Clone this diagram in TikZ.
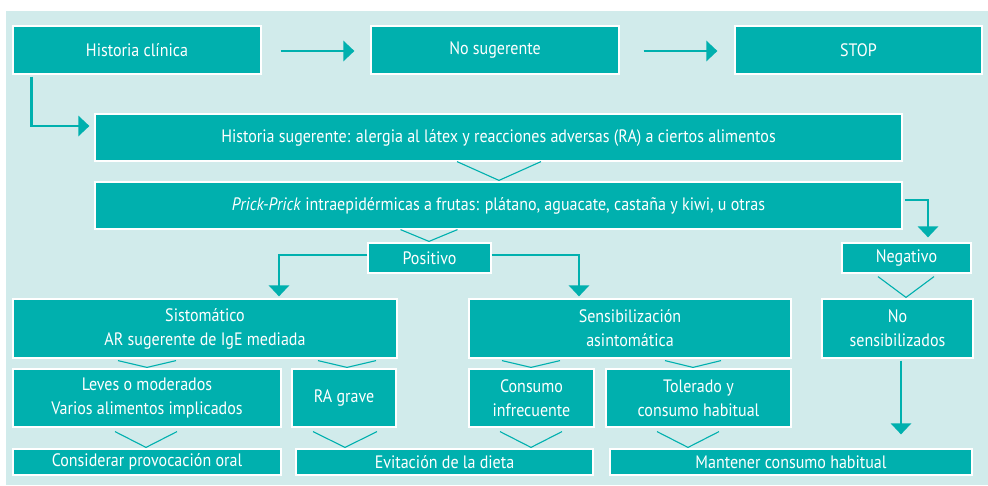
\documentclass[tikz,border=0pt]{standalone}
\usepackage{fontspec}
\setmainfont[FakeStretch=0.89]{PT Sans}
\usetikzlibrary{arrows.meta,calc}
\definecolor{tealbox}{RGB}{0,176,174}
\definecolor{bgc}{RGB}{209,235,235}
\newcommand\chevron[5]{% from, to, xc, halfwidth, startgap
  \draw[chev] ($(#3-#4,0 |- #1.south)+(0,#5)$) -- ($(#3,0 |- #2.north)+(0,-1)$) -- ($(#3+#4,0 |- #1.south)+(0,#5)$);}
\begin{document}
\begin{tikzpicture}[x=1pt,y=-1pt,
  box/.style={fill=tealbox,draw=white,line width=1.2pt,text=white,align=center,inner sep=0pt,
    font=\fontsize{18}{24}\selectfont},
  arr/.style={draw=tealbox,line width=2.8pt,-{Triangle[length=11pt,width=20pt]}},
  chev/.style={draw=tealbox,line width=1.1pt}]
\useasboundingbox (0,0) rectangle (988,485);
\fill[white] (0,0) rectangle (988,485);
\fill[bgc] (6,11) rectangle (988,485);

\node[box,minimum width=248pt,minimum height=48pt] (hc) at (137,50) {Historia clínica};
\node[box,minimum width=248pt,minimum height=48pt] (ns) at (495,50) {No sugerente};
\node[box,minimum width=247pt,minimum height=48pt] (stop) at (858.5,50) {STOP};
\node[box,minimum width=807pt,minimum height=47pt] (hs) at (498.5,137.5) {Historia sugerente: alergia al látex y reacciones adversas (RA) a ciertos alimentos};
\node[box,minimum width=807pt,minimum height=47pt] (pp) at (498.5,205.5) {\textit{Prick-Prick} intraepidérmicas a frutas: plátano, aguacate, castaña y kiwi, u otras};
\node[box,minimum width=123pt,minimum height=30pt] (pos) at (429.5,258) {Positivo};
\node[box,minimum width=129pt,minimum height=30pt] (neg) at (906.5,258) {Negativo};
\node[box,minimum width=384pt,minimum height=59pt] (sis) at (205,328.5) {Sistomático\\AR sugerente de IgE mediada};
\node[box,minimum width=322pt,minimum height=59pt] (sen) at (630,328.5) {Sensibilización\\asintomática};
\node[box,minimum width=151pt,minimum height=59pt] (nsen) at (897.5,328.5) {No\\sensibilizados};
\node[box,minimum width=268pt,minimum height=58pt] (lev) at (147,398) {Leves o moderados\\Varios alimentos implicados};
\node[box,minimum width=104pt,minimum height=58pt] (rag) at (344,398) {RA grave};
\node[box,minimum width=125pt,minimum height=58pt] (cin) at (531.5,398) {Consumo\\infrecuente};
\node[box,minimum width=185pt,minimum height=58pt] (tol) at (698.5,398) {Tolerado y\\consumo habitual};
\node[box,minimum width=268pt,minimum height=26pt] (con) at (147,462) {Considerar provocación oral};
\node[box,minimum width=297pt,minimum height=26pt] (evi) at (444.5,462) {Evitación de la dieta};
\node[box,minimum width=362pt,minimum height=26pt] (man) at (791,462) {Mantener consumo habitual};

% thick arrows
\draw[arr] ($(hc.east)+(19,1)$) -- ($(ns.west)+(-16,1)$);
\draw[arr] ($(ns.east)+(24,1)$) -- ($(stop.west)+(-17,1)$);
\draw[arr] ($(hc.south west)+(19,2)$) |- ($(hs.west)+(-5,-11.5)$);
\draw[arr] ($(pp.east)+(2,-5.5)$) -| ($(neg.north)+(21.5,-5)$);
\draw[arr] ($(pos.west)+(0,-3)$) -| ($(sis.north)+(74,-2)$);
\draw[arr] ($(pos.east)+(0,-3)$) -| ($(sen.north)+(-51,-2)$);
\draw[arr] ($(nsen.south)+(3.5,2)$) -- ($(nsen.south |- man.north)+(3.5,-14)$);

% chevrons
\chevron{hs}{pp}{499}{42}{0}
\chevron{pp}{pos}{429}{28.5}{0}
\chevron{neg}{nsen}{906}{28}{3}
\chevron{sis}{lev}{147}{29}{2}
\chevron{sis}{rag}{347}{29}{2}
\chevron{sen}{cin}{531}{29}{2}
\chevron{sen}{tol}{693}{28}{2}
\chevron{lev}{con}{146}{31}{4}
\chevron{rag}{evi}{345}{32}{4}
\chevron{cin}{evi}{531}{31}{4}
\chevron{tol}{man}{688}{31}{4}
\end{tikzpicture}
\end{document}
